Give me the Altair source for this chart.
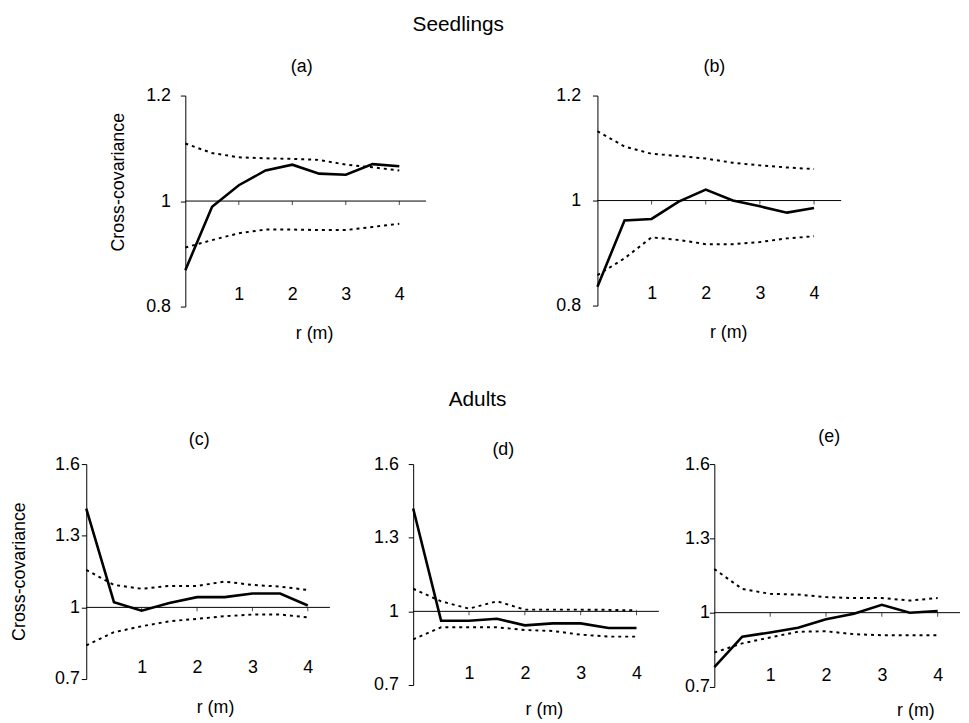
import altair as alt
import pandas as pd

# ---------------- data ----------------
R = [0, 0.5, 1, 1.5, 2, 2.5, 3, 3.5, 4]
X_TICKS = [1, 2, 3, 4]

a_cov   = [0.869, 0.989, 1.030, 1.058, 1.069, 1.052, 1.050, 1.070, 1.066]
a_upper = [1.109, 1.091, 1.083, 1.081, 1.080, 1.078, 1.069, 1.064, 1.058]
a_lower = [0.912, 0.926, 0.939, 0.946, 0.946, 0.945, 0.945, 0.951, 0.957]

b_cov   = [0.836, 0.962, 0.965, 0.998, 1.021, 1.000, 0.989, 0.977, 0.986]
b_upper = [1.132, 1.103, 1.089, 1.085, 1.080, 1.072, 1.067, 1.063, 1.060]
b_lower = [0.858, 0.890, 0.930, 0.925, 0.917, 0.917, 0.921, 0.928, 0.932]

c_cov   = [1.413, 1.022, 0.986, 1.018, 1.043, 1.043, 1.058, 1.058, 1.008]
c_upper = [1.157, 1.094, 1.078, 1.090, 1.090, 1.108, 1.094, 1.087, 1.073]
c_lower = [0.841, 0.896, 0.921, 0.942, 0.952, 0.963, 0.970, 0.970, 0.958]

d_cov   = [1.419, 0.962, 0.962, 0.970, 0.943, 0.951, 0.951, 0.932, 0.932]
d_upper = [1.092, 1.041, 1.011, 1.041, 1.007, 1.007, 1.007, 1.006, 1.004]
d_lower = [0.886, 0.935, 0.935, 0.935, 0.924, 0.920, 0.905, 0.897, 0.897]

e_cov   = [0.780, 0.903, 0.920, 0.939, 0.973, 0.996, 1.032, 1.000, 1.007]
e_upper = [1.176, 1.096, 1.076, 1.073, 1.063, 1.059, 1.059, 1.049, 1.059]
e_lower = [0.839, 0.876, 0.900, 0.923, 0.925, 0.913, 0.909, 0.909, 0.909]

SEEDLING_Y = [0.8, 1.2]
SEEDLING_TICKS = [0.8, 1, 1.2]
ADULT_Y = [0.7, 1.6]
ADULT_TICKS = [0.7, 1, 1.3, 1.6]

FONT = "Liberation Sans"


def panel(letter, cov, upper, lower, ydom, yticks, xmax, w, h,
          ytitle, ytitle_y, label_pad, title_dx, title_offset, xtitle_x, xtitle_y=17):
    df = pd.DataFrame({
        "r": R * 3,
        "value": cov + upper + lower,
        "series": ["cov"] * len(R) + ["upper"] * len(R) + ["lower"] * len(R),
    })
    ref_df = pd.DataFrame({"value": [1.0]})
    tick_df = pd.DataFrame({"r": X_TICKS, "value": [1.0] * len(X_TICKS)})

    x = alt.X(
        "r:Q",
        scale=alt.Scale(domain=[0, xmax], nice=False, zero=False),
        axis=alt.Axis(
            values=X_TICKS, ticks=False, domain=False, grid=False,
            labelPadding=-21, labelFontSize=18, labelFont=FONT,
            labelColor="black", labelBaseline="top",
            title="r (m)", titleFont=FONT, titleFontSize=18,
            titleFontWeight="normal", titleColor="black",
            titleX=xtitle_x, titleY=xtitle_y, titleBaseline="top",
            titleAlign="center",
        ),
    )
    yaxis_kwargs = dict(
        values=yticks, format=".1~f", grid=False, ticks=True, tickSize=5,
        tickColor="black", domainColor="black", domainWidth=1, tickWidth=1,
        labelFontSize=18, labelFont=FONT, labelColor="black",
        labelPadding=label_pad,
    )
    if ytitle:
        yaxis_kwargs.update(
            title="Cross-covariance", titleFont=FONT, titleFontSize=18,
            titleFontWeight="normal", titleColor="black", titleX=-67,
            titleY=ytitle_y, titleAngle=270, titleBaseline="middle",
            titleAlign="center",
        )
    else:
        yaxis_kwargs.update(title="")
    y = alt.Y("value:Q", scale=alt.Scale(domain=ydom, nice=False, zero=False),
              axis=alt.Axis(**yaxis_kwargs))

    rule = alt.Chart(ref_df).mark_rule(color="black", strokeWidth=1).encode(y=y)
    ticks = alt.Chart(tick_df).mark_tick(
        orient="vertical", size=4, thickness=1, color="black", yOffset=2
    ).encode(x=x, y=y)
    bands = alt.Chart(df).transform_filter(alt.datum.series != "cov").mark_line(
        color="black", strokeWidth=2, strokeDash=[3, 4]
    ).encode(x=x, y=y, detail="series:N")
    main = alt.Chart(df).transform_filter(alt.datum.series == "cov").mark_line(
        color="black", strokeWidth=2.6
    ).encode(x=x, y=y)

    return alt.layer(rule, ticks, bands, main).properties(
        width=w, height=h,
        title=alt.TitleParams(
            letter, font=FONT, fontSize=18, fontWeight="normal", color="black",
            anchor="middle", frame="group", dx=title_dx, offset=title_offset,
            baseline="bottom",
        ),
    )


def spacer(w, h=1, label=None, dx=0, offset=0):
    props = dict(width=w, height=h)
    if label:
        props["title"] = alt.TitleParams(
            label, font=FONT, fontSize=21, fontWeight="normal", color="black",
            anchor="middle", frame="group", dx=dx, offset=offset,
            baseline="bottom",
        )
    return alt.Chart(pd.DataFrame({"v": [0]})).mark_point(size=0, opacity=0).encode(
        x=alt.X("v:Q", axis=None), y=alt.Y("v:Q", axis=None)
    ).properties(**props)


pa = panel("(a)", a_cov, a_upper, a_lower, SEEDLING_Y, SEEDLING_TICKS, 4.5, 243, 213,
           True, 87, 10, -4, -7, 130, 18)
pb = panel("(b)", b_cov, b_upper, b_lower, SEEDLING_Y, SEEDLING_TICKS, 4.5, 246, 212,
           False, 0, 12, -5, -7, 132, 18)
pc = panel("(c)", c_cov, c_upper, c_lower, ADULT_Y, ADULT_TICKS, 4.4, 246, 217,
           True, 108, 2, -9, -12, 130, 20)
pd_ = panel("(d)", d_cov, d_upper, d_lower, ADULT_Y, ADULT_TICKS, 4.4, 248, 223,
            False, 0, 10, -33, -22, 132, 16)
pe = panel("(e)", e_cov, e_upper, e_lower, ADULT_Y, ADULT_TICKS, 4.4, 248, 225,
           False, 0, 0, -8, -9, 203, 15)

row1 = alt.hconcat(
    spacer(100), pa, spacer(173, label="Seedlings", dx=-54, offset=40), pb,
    spacing=0, bounds="flush",
)
row2 = alt.hconcat(
    pc, spacer(84, label="Adults", dx=107, offset=34), pd_, spacer(56), pe,
    spacing=0, bounds="flush",
)

chart = alt.vconcat(row1, row2, spacing=45, bounds="full").properties(
    padding={"left": 2, "top": 2, "right": 0, "bottom": 0},
    background="white",
).configure_view(stroke="transparent")

chart.save("out.html", embed_options={"renderer": "svg", "actions": False})
